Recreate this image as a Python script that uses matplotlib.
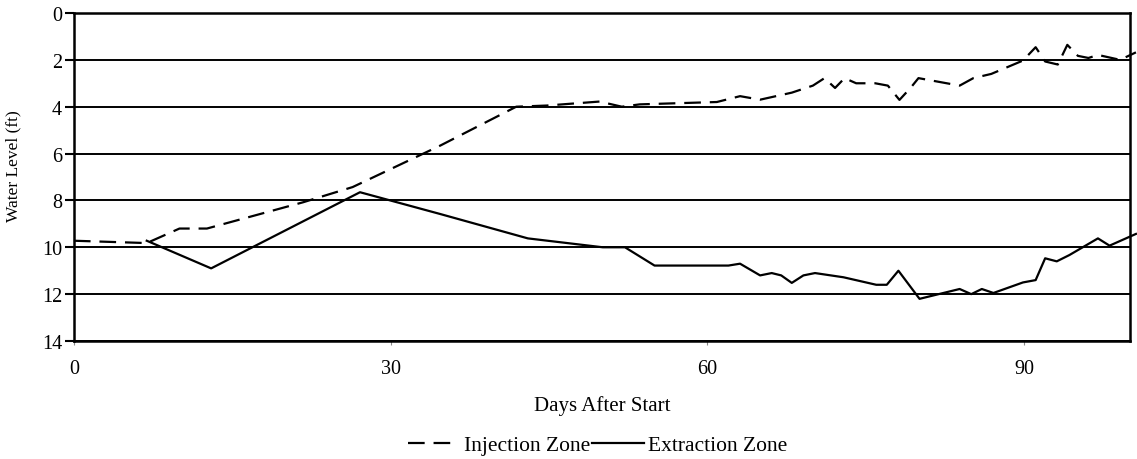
import matplotlib
matplotlib.use("Agg")
import matplotlib.pyplot as plt

plt.rcParams['font.family'] = ['Liberation Serif', 'DejaVu Serif']

inj_days = [0, 6.9, 10, 12.6, 21.7, 26.4, 34.7, 41.9, 44.8, 49.8, 51.9, 53.6, 60.9, 63.1, 65.0,
            68.0, 70.0, 71.1, 72.1, 73.0, 74.1, 75.9, 77.1, 78.2, 79.3, 80.0, 83.9, 85.2, 86.9,
            89.9, 91.1, 92.0, 93.2, 94.1, 95.1, 96.1, 97.0, 99.1, 100.6]
inj_level = [9.72, 9.82, 9.2, 9.2, 8.08, 7.43, 5.66, 4.0, 3.95, 3.78, 4.0, 3.9, 3.8, 3.55, 3.7,
             3.4, 3.1, 2.78, 3.2, 2.78, 3.0, 3.0, 3.1, 3.71, 3.17, 2.78, 3.1, 2.78, 2.6,
             2.03, 1.46, 2.07, 2.2, 1.36, 1.83, 1.92, 1.79, 2.0, 1.68]

ext_days = [6.9, 13.0, 27.1, 34.7, 43.0, 50.1, 52.2, 55.0, 62.0, 63.1, 65.0, 66.1, 67.0, 68.0,
            69.1, 70.2, 72.9, 76.0, 77.0, 78.1, 80.1, 83.9, 85.0, 86.0, 87.1, 89.9, 91.1, 92.0,
            93.1, 94.3, 97.0, 98.1, 100.6]
ext_level = [9.72, 10.9, 7.65, 8.58, 9.62, 10.0, 10.0, 10.78, 10.78, 10.7, 11.2, 11.1, 11.2, 11.52,
             11.2, 11.1, 11.28, 11.6, 11.6, 11.0, 12.2, 11.78, 12.0, 11.78, 11.95, 11.5, 11.4, 10.47,
             10.6, 10.33, 9.62, 9.93, 9.43]

x_ticks = [0, 30, 60, 90]
y_ticks = [0, 2, 4, 6, 8, 10, 12, 14]

fig = plt.figure(figsize=(11.37, 4.6), dpi=100)
ax = fig.add_axes([0.065, 0.2565, 0.9285, 0.7131])

ax.plot(inj_days, inj_level, color='black', lw=1.6, dashes=(7.5, 4), label='Injection Zone',
        clip_on=False)
ax.plot(ext_days, ext_level, color='black', lw=1.6, label='Extraction Zone', clip_on=False)

ax.set_xlim(0, 100)
ax.set_ylim(14, 0)
ax.set_xticks(x_ticks)
ax.set_yticks(y_ticks)
for y in y_ticks:
    ax.axhline(y, color='black', lw=1.4, zorder=0)

for s in ax.spines.values():
    s.set_linewidth(1.8)
    s.set_color('black')

ax.tick_params(axis='both', direction='out', labelsize=14.5, colors='black')
ax.tick_params(axis='x', length=3, width=0.8, pad=10, color='#888888')
ax.tick_params(axis='y', length=6.5, width=1.5, pad=2)

ax.set_xlabel('Days After Start', fontsize=15, labelpad=12)
ax.set_ylabel('Water Level (ft)', fontsize=12.5)
ax.yaxis.set_label_coords(-0.05, 0.537)

fig.legend(loc='center', bbox_to_anchor=(0.5255, 0.03), ncol=2, frameon=False, fontsize=15.5,
           handlelength=2.4, handletextpad=0.2, columnspacing=0.1)

fig.savefig('out.png', dpi=100)
